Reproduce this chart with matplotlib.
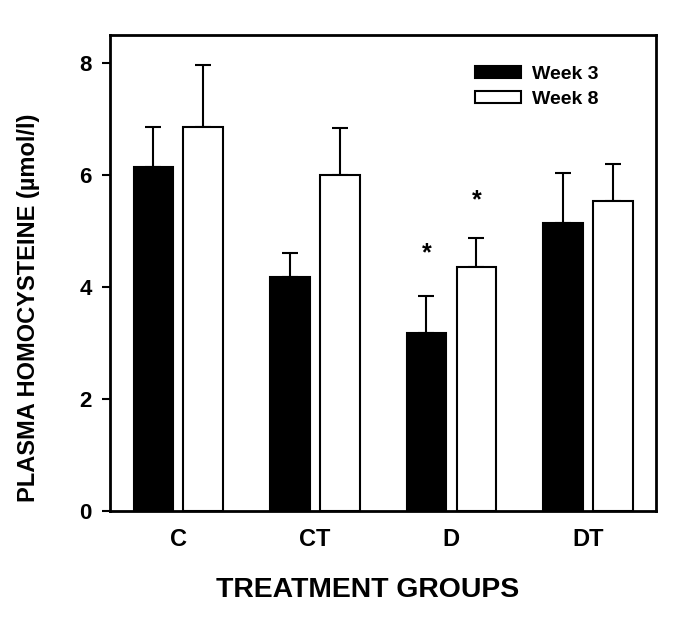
import numpy as np
import matplotlib.pyplot as plt

plt.rcParams['font.family'] = ['Liberation Sans', 'DejaVu Sans']
plt.rcParams['font.weight'] = 'bold'
plt.rcParams['axes.labelweight'] = 'bold'

## Data
groups = ['C', 'CT', 'D', 'DT']
week3 = [6.14, 4.17, 3.17, 5.14]
week3_err = [0.72, 0.43, 0.66, 0.90]
week8 = [6.86, 6.00, 4.36, 5.53]
week8_err = [1.11, 0.84, 0.51, 0.67]
star_idx = 2
star_y = [4.60, 5.54]

x = np.arange(len(groups))
w = 0.29
off = 0.183

fig = plt.figure(figsize=(6.75, 6.19), dpi=100)
ax = fig.add_axes([0.163, 0.1745, 0.809, 0.769])

ax.bar(x - off, week3, w, color='black', edgecolor='black', linewidth=1.5,
       label='Week 3', zorder=2)
ax.bar(x + off, week8, w, color='white', edgecolor='black', linewidth=1.5,
       label='Week 8', zorder=2)
ax.errorbar(x - off, week3, yerr=[np.zeros(4), week3_err], fmt='none',
            ecolor='black', elinewidth=1.5, capsize=6, capthick=1.5, zorder=1)
ax.errorbar(x + off, week8, yerr=[np.zeros(4), week8_err], fmt='none',
            ecolor='black', elinewidth=1.5, capsize=6, capthick=1.5, zorder=1)

ax.text(star_idx - off, star_y[0], '*', ha='center', va='center', fontsize=18)
ax.text(star_idx + off, star_y[1], '*', ha='center', va='center', fontsize=18)

ax.set_xlim(-0.5, 3.5)
ax.set_ylim(0, 8.5)
ax.set_yticks([0, 2, 4, 6, 8])
ax.set_xticks(x)
ax.set_xticklabels(groups, fontsize=17)
ax.tick_params(axis='x', length=0, pad=12)
ax.tick_params(axis='y', length=6, width=1.5, labelsize=16, pad=7)
for s in ax.spines.values():
    s.set_linewidth(2)

ax.set_xlabel('TREATMENT GROUPS', fontsize=20.4)
ax.xaxis.set_label_coords(0.472, -0.138)
ax.set_ylabel('PLASMA HOMOCYSTEINE (µmol/l)', fontsize=17)
ax.yaxis.set_label_coords(-0.128, 0.426)

ax.legend(loc='upper left', bbox_to_anchor=(0.636, 0.972), frameon=False,
          fontsize=14, handlelength=2.4, handleheight=0.55, labelspacing=0.4,
          handletextpad=0.55)

plt.savefig('out.png', dpi=100)
